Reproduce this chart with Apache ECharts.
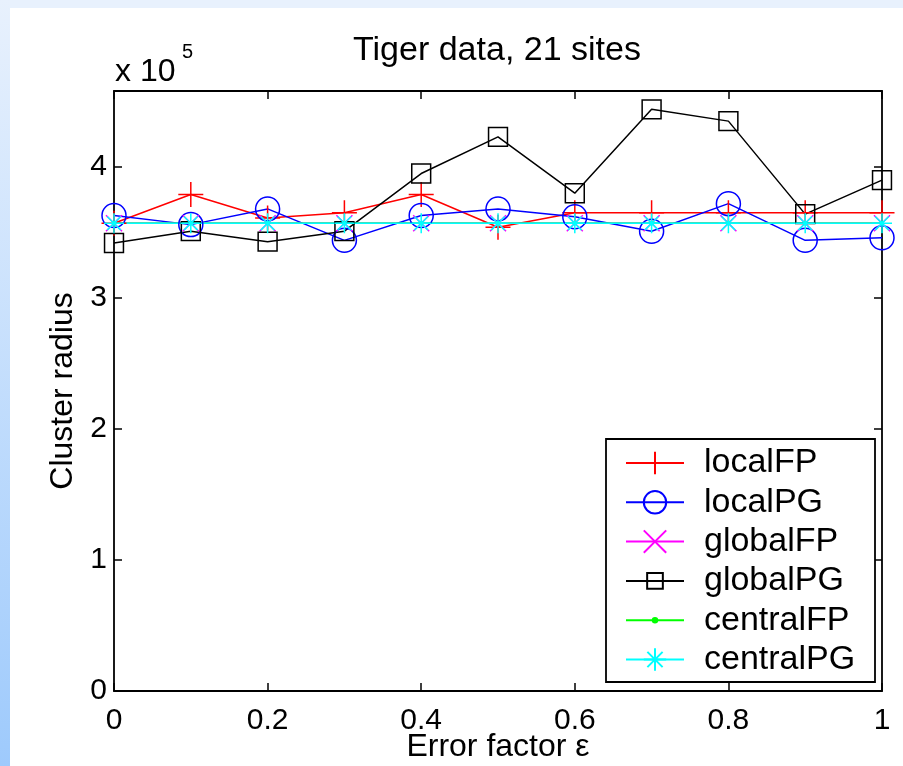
<!DOCTYPE html>
<html><head><meta charset="utf-8">
<script src="https://cdn.jsdelivr.net/npm/echarts@6/dist/echarts.min.js"></script>
<style>html,body{margin:0;padding:0;background:#fff}#c{width:903px;height:766px}</style>
</head><body><div id="c"></div>
<script>
const xValues   = [0, 0.1, 0.2, 0.3, 0.4, 0.5, 0.6, 0.7, 0.8, 0.9, 1.0];
const localFP   = [3.57, 3.79, 3.61, 3.65, 3.79, 3.54, 3.65, 3.65, 3.65, 3.65, 3.65];
const localPG   = [3.63, 3.56, 3.68, 3.44, 3.63, 3.68, 3.62, 3.51, 3.72, 3.44, 3.46];
const globalFP  = [3.57, 3.57, 3.57, 3.57, 3.57, 3.57, 3.57, 3.57, 3.57, 3.57, 3.57];
const globalPG  = [3.42, 3.51, 3.43, 3.51, 3.95, 4.23, 3.80, 4.44, 4.35, 3.64, 3.90];
const centralFP = [3.57, 3.57, 3.57, 3.57, 3.57, 3.57, 3.57, 3.57, 3.57, 3.57, 3.57];
const centralPG = [3.57, 3.57, 3.57, 3.57, 3.57, 3.57, 3.57, 3.57, 3.57, 3.57, 3.57];
const xTickLabels = ['0', '0.2', '0.4', '0.6', '0.8', '1'];
const yTickLabels = ['0', '1', '2', '3', '4'];

const FONT = 'Liberation Sans, Arial, Helvetica, sans-serif';
const chart = echarts.init(document.getElementById('c'), null, {renderer: 'canvas'});

function mk(name, vals, color, symbol, size, fill) {
  return {
    name: name, type: 'line', xAxisIndex: 0, yAxisIndex: 0,
    data: xValues.map((x, i) => [x, vals[i]]),
    symbol: symbol, symbolSize: size, showAllSymbol: true,
    color: color,
    lineStyle: {color: color, width: 1.5},
    itemStyle: {color: fill, borderColor: color, borderWidth: 1.5},
    emphasis: {disabled: true},
    animation: false
  };
}
const CROSS = 'path://M0,5L10,5M5,0L5,10';
const XMARK = 'path://M0,0L10,10M10,0L0,10';
const STAR  = 'path://M5,0L5,10M0,5L10,5M1.6,1.6L8.4,8.4M8.4,1.6L1.6,8.4';
const DOT   = 'path://M0,0M10,10M5,4A1,1,0,1,1,5,6A1,1,0,1,1,5,4Z';
const SQUARE = 'path://M0,0M10,10M1.5,1.5L8.5,1.5L8.5,8.5L1.5,8.5Z';

const xFmt = v => { const i = Math.round(v / 0.2); return Math.abs(v - i * 0.2) < 1e-6 ? xTickLabels[i] : ''; };
const yFmt = v => { const i = Math.round(v); return Math.abs(v - i) < 1e-6 && i < yTickLabels.length ? yTickLabels[i] : ''; };

const axisLine = {show: true, onZero: false, lineStyle: {color: '#000', width: 1.8}};
const tick = {show: true, inside: true, length: 8, lineStyle: {color: '#000', width: 1.5}};

chart.setOption({
  backgroundColor: '#fff',
  animation: false,
  title: {text: 'Tiger data, 21 sites', left: 492, top: 29, textAlign: 'center',
    textStyle: {fontFamily: FONT, fontSize: 34, fontWeight: 'normal', color: '#000'}},
  grid: {left: 114, right: 21, top: 91, bottom: 75, containLabel: false, outerBoundsMode: 'none'},
  xAxis: [
    {type: 'value', min: 0, max: 1, interval: 0.2, position: 'bottom',
     name: 'Error factor \u03b5', nameLocation: 'middle', nameGap: 40, nameMoveOverlap: false,
     nameTextStyle: {fontFamily: FONT, fontSize: 32, color: '#000'},
     axisLine: axisLine, axisTick: tick, splitLine: {show: false},
     axisLabel: {formatter: xFmt, fontFamily: FONT, fontSize: 30, color: '#000', margin: 15, showMaxLabel: true, showMinLabel: true}},
    {type: 'value', min: 0, max: 1, interval: 0.2, position: 'top',
     axisLine: axisLine, axisTick: tick, splitLine: {show: false}, axisLabel: {show: false}}
  ],
  yAxis: [
    {type: 'value', min: 0, max: 4.58, interval: 1, position: 'left',
     name: 'Cluster radius', nameLocation: 'middle', nameGap: 35, nameMoveOverlap: false,
     nameTextStyle: {fontFamily: FONT, fontSize: 32, color: '#000'},
     axisLine: axisLine, axisTick: tick, splitLine: {show: false},
     axisLabel: {formatter: yFmt, fontFamily: FONT, fontSize: 30, color: '#000', margin: 7}},
    {type: 'value', min: 0, max: 4.58, interval: 1, position: 'right',
     axisLine: axisLine, axisTick: tick, splitLine: {show: false}, axisLabel: {show: false}}
  ],
  legend: {
    orient: 'vertical', left: 625, top: 446, padding: 0,
    itemWidth: 58, itemHeight: 28, itemGap: 5.3,
    textStyle: {fontFamily: FONT, fontSize: 34, lineHeight: 34, color: '#000', padding: [0, 0, 0, 15]},
    selectedMode: false,
    data: ['localFP', 'localPG', 'globalFP', 'globalPG', 'centralFP', 'centralPG']
  },
  graphic: [
    {type: 'rect', z: -10, shape: {x: 0, y: 0, width: 903, height: 8}, style: {fill: '#e8f1fd'}},
    {type: 'rect', z: -10, shape: {x: 0, y: 0, width: 10, height: 766},
     style: {fill: new echarts.graphic.LinearGradient(0, 0, 0, 1, [{offset: 0, color: '#e8f1fd'}, {offset: 1, color: '#9ecafc'}])}},
    {type: 'rect', z: 3, shape: {x: 606, y: 439, width: 269, height: 243},
     style: {fill: '#fff', stroke: '#000', lineWidth: 1.8}},
    {type: 'text', left: 115, top: 56, style: {text: 'x 10', fontFamily: FONT, fontSize: 32, fill: '#000'}},
    {type: 'text', left: 182, top: 42, style: {text: '5', fontFamily: FONT, fontSize: 20, fill: '#000'}}
  ],
  series: [
    mk('localFP', localFP, '#ff0000', CROSS, 25, '#ff0000'),
    mk('localPG', localPG, '#0000ff', 'circle', 24, 'rgba(0,0,0,0)'),
    mk('globalFP', globalFP, '#ff00ff', XMARK, 16, '#ff00ff'),
    mk('globalPG', globalPG, '#000000', SQUARE, 27, 'rgba(0,0,0,0)'),
    mk('centralFP', centralFP, '#00ff00', DOT, 12, '#00ff00'),
    mk('centralPG', centralPG, '#00ffff', STAR, 20, '#00ffff')
  ]
});
</script></body></html>
